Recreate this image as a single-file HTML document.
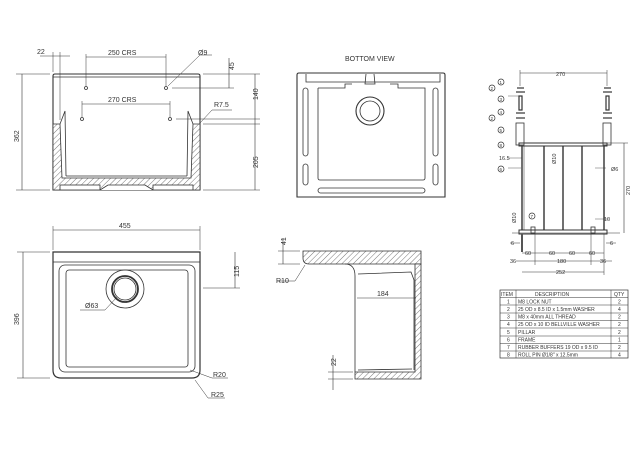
<!DOCTYPE html>
<html><head><meta charset="utf-8"><style>
html,body{margin:0;padding:0;background:#fff;}
svg{display:block;font-family:"Liberation Sans",sans-serif;}
text{fill:#333;}
</style></head><body>
<svg width="643" height="454" viewBox="0 0 643 454" xmlns="http://www.w3.org/2000/svg">
<defs>
<pattern id="h" patternUnits="userSpaceOnUse" width="4" height="4" patternTransform="rotate(45)">
<rect width="4" height="4" fill="#fff"/><line x1="0" y1="0" x2="0" y2="4" stroke="#555" stroke-width="0.8"/>
</pattern>
</defs>
<g stroke="#333" stroke-width="0.8" fill="none">
<!-- FRONT VIEW -->
<path d="M53,190 V76 Q53,74 55,74 H198 Q200,74 200,76 V190 Z" stroke-width="1.1"/>
<line x1="53" y1="77" x2="200" y2="77"/>
<path d="M53,124 L60,124 L62,178 L191,178 L193,124 L200,124 L200,190 L53,190 Z" fill="url(#h)"/>
<path d="M60,124 L65,111 L66,176 M193,124 L188,111 L187,176"/>
<line x1="66" y1="176" x2="187" y2="176"/>
<rect x="60" y="185" width="40" height="5" fill="#fff"/>
<rect x="153" y="185" width="40" height="5" fill="#fff"/>
<path d="M100,190 L108,185 L145,185 L153,190" fill="#fff"/>
<circle cx="86" cy="88" r="1.5"/><circle cx="166" cy="88" r="1.5"/>
<circle cx="82" cy="119" r="1.5"/><circle cx="170" cy="119" r="1.5"/>
<!-- front dims -->
<line x1="22" y1="74" x2="22" y2="190" stroke-width="0.6"/>
<line x1="16" y1="74" x2="50" y2="74" stroke-width="0.5"/>
<line x1="16" y1="190" x2="50" y2="190" stroke-width="0.5"/>
<line x1="86" y1="57" x2="166" y2="57" stroke-width="0.6"/>
<line x1="86" y1="54" x2="86" y2="86" stroke-width="0.5"/><line x1="166" y1="54" x2="166" y2="86" stroke-width="0.5"/>
<line x1="82" y1="104" x2="170" y2="104" stroke-width="0.6"/>
<line x1="82" y1="101" x2="82" y2="117" stroke-width="0.5"/><line x1="170" y1="101" x2="170" y2="117" stroke-width="0.5"/>
<line x1="40" y1="56" x2="70" y2="56" stroke-width="0.5"/>
<line x1="53" y1="52" x2="53" y2="72" stroke-width="0.5"/><line x1="60" y1="52" x2="60" y2="120" stroke-width="0.5"/>
<line x1="229" y1="58" x2="229" y2="88" stroke-width="0.6"/>
<line x1="172" y1="88" x2="234" y2="88" stroke-width="0.5"/>
<line x1="255" y1="74" x2="255" y2="190" stroke-width="0.6"/>
<line x1="203" y1="74" x2="260" y2="74" stroke-width="0.5"/>
<line x1="176" y1="119" x2="260" y2="119" stroke-width="0.5"/>
<line x1="203" y1="124" x2="260" y2="124" stroke-width="0.5"/>
<line x1="203" y1="190" x2="260" y2="190" stroke-width="0.5"/>
<path d="M168,86 L200,55 H212" stroke-width="0.5"/>
<path d="M200,123 L212,110 H232" stroke-width="0.5"/>

<!-- BOTTOM VIEW -->
<path d="M297,197 V75 Q297,73 299,73 H443 Q445,73 445,75 V197 Z" stroke-width="1.1"/>
<path d="M306,74 V82 H440 V74"/>
<path d="M318,88 V178 Q318,180 320,180 H423 Q425,180 425,178 V88 H398 V84 H390 M318,88 H345 V84 H352"/>
<path d="M366,74 L365,84 H375 L374,74"/>
<circle cx="370" cy="111" r="14" stroke-width="1.1"/>
<circle cx="370" cy="111" r="10"/>
<rect x="303" y="88" width="5" height="68" rx="2.5"/>
<rect x="303" y="164" width="5" height="21" rx="2.5"/>
<rect x="433" y="88" width="5" height="68" rx="2.5"/>
<rect x="433" y="164" width="5" height="21" rx="2.5"/>
<rect x="318" y="188" width="107" height="5" rx="2.5"/>

<!-- PLAN VIEW -->
<path d="M53,252 H200 V370 Q200,378 192,378 H61 Q53,378 53,370 Z" stroke-width="1.2"/>
<line x1="53" y1="262" x2="200" y2="262"/>
<rect x="59" y="265" width="136" height="107" rx="6"/>
<rect x="66" y="270" width="122" height="97" rx="3"/>
<circle cx="125" cy="289" r="19"/>
<circle cx="125" cy="289" r="13" stroke-width="1.8"/>
<circle cx="125" cy="289" r="11"/>
<line x1="53" y1="230" x2="200" y2="230" stroke-width="0.6"/>
<line x1="53" y1="226" x2="53" y2="250" stroke-width="0.5"/><line x1="200" y1="226" x2="200" y2="250" stroke-width="0.5"/>
<line x1="23" y1="252" x2="23" y2="378" stroke-width="0.6"/>
<line x1="17" y1="252" x2="50" y2="252" stroke-width="0.5"/><line x1="17" y1="378" x2="50" y2="378" stroke-width="0.5"/>
<line x1="235" y1="252" x2="235" y2="288" stroke-width="0.6"/>
<line x1="203" y1="288" x2="240" y2="288" stroke-width="0.5"/>
<path d="M117,297 L105,310 H80" stroke-width="0.5"/>
<path d="M190,370 L212,378 H228" stroke-width="0.5"/>
<path d="M195,380 L208,398 H225" stroke-width="0.5"/>

<!-- SECTION VIEW -->
<path d="M303,251 H421 V264 H309 Q303,264 303,258 Z" fill="url(#h)"/>
<path d="M415,264 H421 V379 H355 V372 H415 Z" fill="url(#h)"/>
<path d="M345,264 Q355,264 355,276 V372"/>
<path d="M358,274 L411,272 L414,280 V370 M358,370 L412,369"/>
<line x1="357" y1="298" x2="416" y2="298" stroke-width="0.6"/>
<line x1="283" y1="238" x2="283" y2="264" stroke-width="0.6"/>
<line x1="278" y1="251" x2="300" y2="251" stroke-width="0.5"/><line x1="278" y1="264" x2="300" y2="264" stroke-width="0.5"/>
<line x1="333" y1="355" x2="333" y2="390" stroke-width="0.6"/>
<line x1="328" y1="372" x2="353" y2="372" stroke-width="0.5"/><line x1="328" y1="379" x2="353" y2="379" stroke-width="0.5"/>
<path d="M305,265 L295,281 H277" stroke-width="0.5"/>

<!-- ASSEMBLY -->
<line x1="520" y1="73" x2="607" y2="73" stroke-width="0.6"/>
<line x1="520" y1="70" x2="520" y2="86" stroke-width="0.5"/><line x1="607" y1="70" x2="607" y2="86" stroke-width="0.5"/>
<g stroke-width="1.2">
<line x1="517" y1="88" x2="524" y2="88"/><line x1="604" y1="88" x2="611" y2="88"/>
<line x1="516" y1="92" x2="525" y2="92"/><line x1="603" y1="92" x2="612" y2="92"/>
<rect x="519" y="96" width="3" height="14"/><rect x="606" y="96" width="3" height="14"/>
<line x1="516" y1="113" x2="525" y2="113"/><line x1="603" y1="113" x2="612" y2="113"/>
<line x1="516" y1="118" x2="525" y2="118"/><line x1="603" y1="118" x2="612" y2="118"/>
</g>
<rect x="516" y="123" width="8" height="22"/><rect x="603" y="123" width="8" height="22"/>
<rect x="519" y="143" width="88" height="3" stroke-width="1"/>
<rect x="519" y="230" width="88" height="4" stroke-width="1"/>
<line x1="522" y1="146" x2="522" y2="230" stroke-width="1.4"/>
<line x1="604" y1="146" x2="604" y2="230" stroke-width="1.4"/>
<line x1="544" y1="146" x2="544" y2="230" stroke-width="1.4"/>
<line x1="563" y1="146" x2="563" y2="230" stroke-width="1.4"/>
<line x1="582" y1="146" x2="582" y2="230" stroke-width="1.4"/>
<line x1="524" y1="146" x2="524" y2="230" stroke-width="0.5"/>
<rect x="531" y="227" width="4" height="6"/><rect x="591" y="227" width="4" height="6"/>
<line x1="522" y1="234" x2="522" y2="252" stroke-width="2" stroke="#555"/>
<line x1="512" y1="233" x2="620" y2="233" stroke-width="0.5"/>
<line x1="624" y1="143" x2="624" y2="233" stroke-width="0.6"/>
<line x1="607" y1="143" x2="628" y2="143" stroke-width="0.5"/>
<line x1="522" y1="253" x2="604" y2="253" stroke-width="0.5"/>
<line x1="516" y1="261" x2="612" y2="261" stroke-width="0.5"/>
<line x1="522" y1="272" x2="604" y2="272" stroke-width="0.5"/>
<line x1="604" y1="234" x2="604" y2="275" stroke-width="0.5"/>
<line x1="535" y1="234" x2="535" y2="265" stroke-width="0.5"/><line x1="591" y1="234" x2="591" y2="265" stroke-width="0.5"/>
<line x1="510" y1="243" x2="520" y2="243" stroke-width="0.5"/><line x1="606" y1="243" x2="616" y2="243" stroke-width="0.5"/>
<line x1="508" y1="96" x2="519" y2="96" stroke-width="0.4"/>
<line x1="508" y1="158" x2="522" y2="158" stroke-width="0.4"/>
<line x1="508" y1="168" x2="521" y2="168" stroke-width="0.4"/>
<line x1="595" y1="168" x2="606" y2="168" stroke-width="0.4"/>
<line x1="595" y1="219" x2="609" y2="219" stroke-width="0.4"/>
<g stroke-width="0.7">
<circle cx="501" cy="82" r="3"/><circle cx="492" cy="88" r="3"/><circle cx="501" cy="99" r="3"/>
<circle cx="501" cy="112" r="3"/><circle cx="492" cy="118" r="3"/><circle cx="501" cy="130" r="3"/>
<circle cx="501" cy="145" r="3"/><circle cx="501" cy="169" r="3"/><circle cx="532" cy="216" r="3"/>
</g>

<!-- TABLE -->
<rect x="500" y="290" width="128" height="68" stroke-width="0.7"/>
<line x1="516" y1="290" x2="516" y2="358" stroke-width="0.5"/>
<line x1="611" y1="290" x2="611" y2="358" stroke-width="0.5"/>
<g stroke-width="0.5">
<line x1="500" y1="297.5" x2="628" y2="297.5"/><line x1="500" y1="305" x2="628" y2="305"/>
<line x1="500" y1="313" x2="628" y2="313"/><line x1="500" y1="320.5" x2="628" y2="320.5"/>
<line x1="500" y1="328" x2="628" y2="328"/><line x1="500" y1="336" x2="628" y2="336"/>
<line x1="500" y1="343.5" x2="628" y2="343.5"/><line x1="500" y1="351" x2="628" y2="351"/>
</g>
</g>

<g font-size="7">
<text x="37" y="54">22</text>
<text x="108" y="55">250 CRS</text>
<text x="198" y="55">Ø9</text>
<text x="108" y="102">270 CRS</text>
<text x="214" y="107">R7.5</text>
<text transform="translate(234,70) rotate(-90)">45</text>
<text transform="translate(258,100) rotate(-90)">140</text>
<text transform="translate(258,168) rotate(-90)">205</text>
<text transform="translate(19,142) rotate(-90)">362</text>
<text x="345" y="61">BOTTOM VIEW</text>
<text x="119" y="228">455</text>
<text transform="translate(19,325) rotate(-90)">396</text>
<text transform="translate(239,277) rotate(-90)">115</text>
<text x="85" y="308">Ø63</text>
<text x="213" y="377">R20</text>
<text x="211" y="397">R25</text>
<text transform="translate(286,245) rotate(-90)">41</text>
<text x="276" y="283">R10</text>
<text x="377" y="296">184</text>
<text transform="translate(336,366) rotate(-90)">22</text>
</g>
<g font-size="5.5">
<text x="556" y="76">270</text>
<text x="499" y="160">16.5</text>
<text transform="translate(556,164) rotate(-90)">Ø10</text>
<text x="611" y="171">Ø6</text>
<text transform="translate(630,195) rotate(-90)">270</text>
<text transform="translate(516,223) rotate(-90)">Ø10</text>
<text x="604" y="221">10</text>
<text x="511" y="245">6</text>
<text x="610" y="245">6</text>
<text x="525" y="255">60</text><text x="549" y="255">60</text><text x="569" y="255">60</text><text x="589" y="255">60</text>
<text x="510" y="263">36</text><text x="557" y="263">180</text><text x="600" y="263">36</text>
<text x="556" y="274">252</text>
<g font-size="4.5">
<text x="499.5" y="84">1</text><text x="490.5" y="90">2</text><text x="499.5" y="101">3</text>
<text x="499.5" y="114">4</text><text x="490.5" y="120">2</text><text x="499.5" y="132">5</text>
<text x="499.5" y="147">8</text><text x="499.5" y="171">6</text><text x="530.5" y="218">7</text>
</g>
</g>
<g font-size="5">
<text x="501" y="296">ITEM</text><text x="535" y="296">DESCRIPTION</text><text x="614" y="296">QTY</text>
<text x="507" y="303.5">1</text><text x="518" y="303.5">M8 LOCK NUT</text><text x="618" y="303.5">2</text>
<text x="507" y="311">2</text><text x="518" y="311">25 OD x 8.5 ID x 1.5mm WASHER</text><text x="618" y="311">4</text>
<text x="507" y="318.5">3</text><text x="518" y="318.5">M8 x 40mm ALL THREAD</text><text x="618" y="318.5">2</text>
<text x="507" y="326">4</text><text x="518" y="326">25 OD x 10 ID BELLVILLE WASHER</text><text x="618" y="326">2</text>
<text x="507" y="334">5</text><text x="518" y="334">PILLAR</text><text x="618" y="334">2</text>
<text x="507" y="341.5">6</text><text x="518" y="341.5">FRAME</text><text x="618" y="341.5">1</text>
<text x="507" y="349">7</text><text x="518" y="349">RUBBER BUFFERS 19 OD x 9.5 ID</text><text x="618" y="349">2</text>
<text x="507" y="356.5">8</text><text x="518" y="356.5">ROLL PIN Ø1/8" x 12.5mm</text><text x="618" y="356.5">4</text>
</g>
</svg>
</body></html>
